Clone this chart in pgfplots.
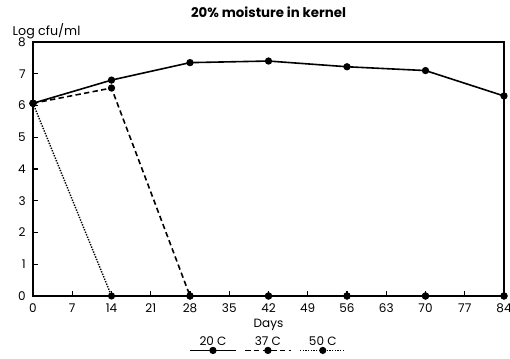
\documentclass[border=0pt]{standalone}
\usepackage{fontspec}
\setmainfont{Poppins}
\usepackage{pgfplots}
\pgfplotsset{compat=1.18}
\pgfplotsset{
  mylegend/.style={
    legend image code/.code={
      \draw[##1,mark=none] (0pt,0pt) -- (34pt,0pt);
      \draw[##1] plot coordinates {(17pt,0pt)};
      \node[font=\fontsize{9}{10}\selectfont, inner sep=0pt, anchor=base] at (17pt,4pt) {#1};
    }
  }
}
\begin{document}
\begin{tikzpicture}
\begin{axis}[
  scale only axis,
  width=353.25pt, height=190.5pt,
  xmin=0, xmax=84, ymin=0, ymax=8,
  xtick={0,7,...,84}, ytick={0,1,...,8},
  xtick pos=bottom, ytick pos=left,
  tick align=inside,
  major tick length=4pt,
  tick style={black, line width=0.8pt},
  axis line style={line width=0.9pt},
  /pgf/number format/assume math mode=true,
  tick label style={font=\fontsize{9}{10}\selectfont},
  yticklabel style={xshift=-2pt},
  xticklabel style={yshift=-2.5pt},
  xlabel={Days},
  xlabel style={font=\fontsize{9}{10}\selectfont, at={(axis description cs:0.5,0)}, anchor=base, yshift=-24pt},
  ylabel={Log cfu/ml},
  ylabel style={font=\fontsize{9.5}{10}\selectfont, rotate=-90, at={(axis description cs:0,1)}, anchor=base west, xshift=-18.75pt, yshift=4.5pt},
  title={\textbf{20\% moisture in kernel}},
  title style={font=\fontsize{10}{11}\selectfont, at={(axis description cs:0.5,1)}, anchor=base, yshift=12pt},
  clip=false,
  legend columns=3,
  legend style={draw=none, fill=none, inner sep=0pt, at={(axis description cs:0.5,0)}, anchor=north, yshift=-30pt, nodes={inner sep=0pt}, /tikz/every even column/.append style={column sep=5pt}},
]
\addplot[black, line width=1.2pt, mark=*, mark size=2.1pt, mylegend={20 C}] coordinates {
(0,6.07) (14,6.8) (28,7.35) (42,7.4) (56,7.22) (70,7.1) (84,6.3)
};
\addlegendentry{}
\addplot[black, line width=1.2pt, dash pattern=on 4pt off 2.5pt, mark=*, mark size=2.1pt, mark options={solid}, mylegend={37 C}] coordinates {
(0,6.07) (14,6.55) (28,0) (42,0) (56,0) (70,0) (84,0)
};
\addlegendentry{}
\addplot[black, line width=1.1pt, dash pattern=on 1pt off 1pt, mark=*, mark size=2.1pt, mark options={solid}, mylegend={50 C}] coordinates {
(0,6.07) (14,0) (28,0) (42,0) (56,0) (70,0) (84,0)
};
\addlegendentry{}
\end{axis}
\pgfresetboundingbox
\path ([xshift=-24.75pt,yshift=-47.25pt]current axis.south west) rectangle ([xshift=4.5pt,yshift=31.5pt]current axis.north east);
\end{tikzpicture}
\end{document}
